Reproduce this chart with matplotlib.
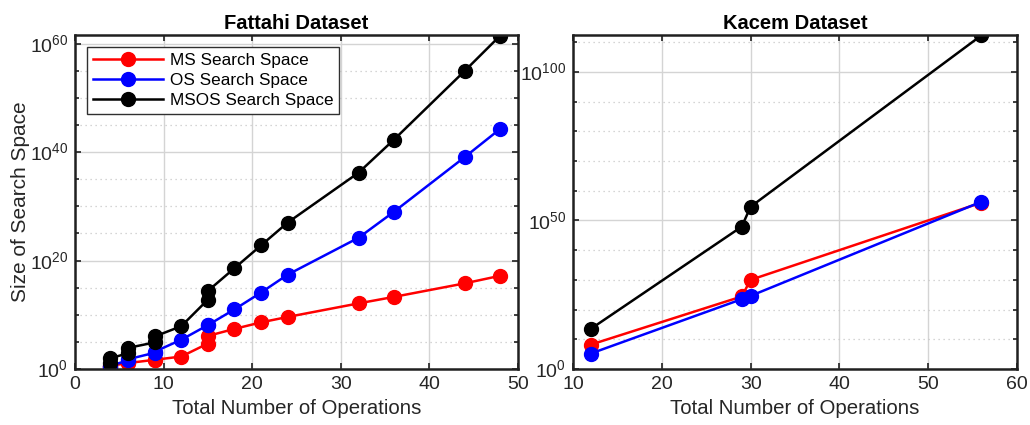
import matplotlib
matplotlib.use('Agg')
from matplotlib import pyplot as plt
from matplotlib.ticker import FixedLocator, NullFormatter
import numpy as np

plt.rcParams['font.family'] = ['Liberation Sans', 'DejaVu Sans']
plt.rcParams['mathtext.fontset'] = 'custom'
plt.rcParams['mathtext.rm'] = 'Liberation Sans'

# Fattahi dataset (exponents of the search space size)
fattahi_ops = [4, 4, 6, 6, 9, 9, 12, 15, 15, 18, 21, 24, 32, 36, 44, 48]
fattahi_ms = [0.4, 0.6, 1.1, 1.1, 1.7, 1.7, 2.3, 4.7, 6.1, 7.4, 8.6, 9.6, 12.1, 13.3, 15.8, 17.2]
fattahi_os = [0.4, 0.6, 1.6, 1.8, 3.0, 3.2, 5.4, 8.1, 8.1, 11.0, 14.1, 17.4, 24.2, 29.0, 39.1, 44.3]
fattahi_msos = [1.1, 2.0, 2.9, 3.9, 4.9, 6.0, 7.9, 12.8, 14.4, 18.6, 22.8, 27.0, 36.2, 42.3, 55.0, 61.5]

# Kacem dataset
kacem_ops = [12, 29, 30, 56]
kacem_ms = [8.2, 24.4, 30.0, 56.0]
kacem_os = [5.2, 23.5, 24.6, 56.3]
kacem_msos = [13.5, 47.9, 54.6, 112.3]

labels = ['MS Search Space', 'OS Search Space', 'MSOS Search Space']
colors = ['#ff0000', '#0000ff', '#000000']
TXT = '#262626'


def style_axes(ax, major, minor, xlim, ylim_top):
    ax.set_yscale('log')
    ax.set_xlim(*xlim)
    ax.set_ylim(1, 10 ** ylim_top)
    ax.yaxis.set_major_locator(FixedLocator([10.0 ** e for e in major]))
    ax.yaxis.set_minor_locator(FixedLocator([10.0 ** e for e in minor]))
    ax.yaxis.set_minor_formatter(NullFormatter())
    ax.set_yticklabels(['$10^{%d}$' % e for e in major])
    ax.grid(which='major', color='#d4d4d4', linewidth=1.0, linestyle='-')
    ax.grid(which='minor', color='#c8c8c8', linewidth=0.9, linestyle=(0, (1, 3)))
    ax.set_axisbelow(True)
    ax.tick_params(which='both', direction='in', top=True, right=True, labelsize=14,
                   length=4, width=1.2, pad=5, labelcolor=TXT, color='#202020')
    ax.tick_params(which='minor', length=3)
    for s in ax.spines.values():
        s.set_linewidth(1.8)
        s.set_color('#202020')
    ax.set_xlabel('Total Number of Operations', fontsize=14.7, color=TXT, labelpad=4)


fig = plt.figure(figsize=(10.3, 4.25), dpi=100)
ax1 = fig.add_axes([75 / 1030, 1 - 369 / 425, 443 / 1030, 334 / 425])
ax2 = fig.add_axes([573 / 1030, 1 - 369 / 425, 444 / 1030, 334 / 425])

for vals, lab, c in zip([fattahi_ms, fattahi_os, fattahi_msos], labels, colors):
    ax1.plot(fattahi_ops, 10.0 ** np.array(vals), '-o', color=c, label=lab,
             linewidth=1.8, markersize=10)
for vals, lab, c in zip([kacem_ms, kacem_os, kacem_msos], labels, colors):
    ax2.plot(kacem_ops, 10.0 ** np.array(vals), '-o', color=c, label=lab,
             linewidth=1.8, markersize=10)

style_axes(ax1, [0, 20, 40, 60], range(5, 65, 5), (0, 50), 61.6)
style_axes(ax2, [0, 50, 100], range(10, 120, 10), (10, 60), 112.4)
ax1.set_xticks([0, 10, 20, 30, 40, 50])
ax2.set_xticks([10, 20, 30, 40, 50, 60])

ax1.set_ylabel('Size of Search Space', fontsize=15, color=TXT, labelpad=0)
ax1.set_title('Fattahi Dataset', fontsize=14.5, fontweight='bold', pad=4)
ax2.set_title('Kacem Dataset', fontsize=14.5, fontweight='bold', pad=4)

leg = ax1.legend(loc='upper left', fontsize=12.3, fancybox=False, framealpha=1,
                 edgecolor='#303030', borderaxespad=0.7, handlelength=4.1,
                 handletextpad=0.4, labelspacing=0.3, borderpad=0.35)
leg.get_frame().set_linewidth(1.0)

fig.savefig('out.png', dpi=100)
